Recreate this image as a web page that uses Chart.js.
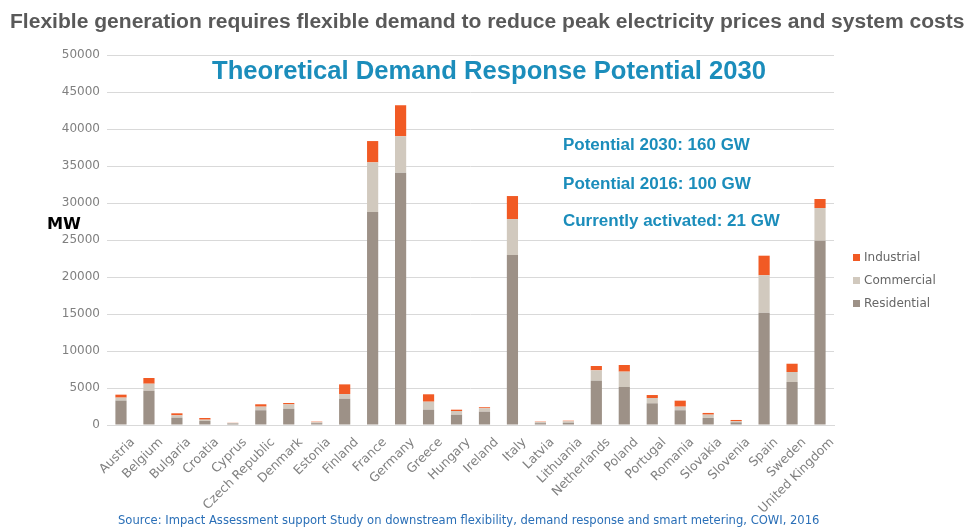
<!DOCTYPE html>
<html>
<head>
<meta charset="utf-8">
<script src="https://cdn.jsdelivr.net/npm/chart.js@4"></script>
<style>
  html, body { margin: 0; padding: 0; background: #fff; }
  #wrap { width: 968px; height: 528px; }
</style>
</head>
<body>
<div id="wrap"><canvas id="myChart" width="968" height="528"></canvas></div>
<script>
// data (MW)
const countries = ['Austria', 'Belgium', 'Bulgaria', 'Croatia', 'Cyprus', 'Czech Republic', 'Denmark',
  'Estonia', 'Finland', 'France', 'Germany', 'Greece', 'Hungary', 'Ireland', 'Italy', 'Latvia',
  'Lithuania', 'Netherlands', 'Poland', 'Portugal', 'Romania', 'Slovakia', 'Slovenia', 'Spain',
  'Sweden', 'United Kingdom']
const residential = [3300, 4630, 990, 540, 200, 1990, 2200, 250, 3550, 28780, 34100, 2070, 1390, 1800,
  22970, 250, 300, 5990, 5140, 2930, 1990, 950, 360, 15180, 5810, 24900]
const commercial = [400, 950, 320, 180, 80, 490, 590, 120, 630, 6710, 4920, 1080, 500, 460,
  4860, 150, 200, 1400, 2070, 720, 490, 450, 140, 5050, 1350, 4420]
const industrial = [400, 770, 270, 230, 20, 320, 180, 80, 1310, 2880, 4190, 1000, 180, 140,
  3110, 50, 80, 580, 900, 400, 810, 230, 180, 2650, 1120, 1220]
const yTicks = [0, 5000, 10000, 15000, 20000, 25000, 30000, 35000, 40000, 45000, 50000]

const mainTitle = 'Flexible generation requires flexible demand to reduce peak electricity prices and system costs'
const subTitle = 'Theoretical Demand Response Potential 2030'
const notes = ['Potential 2030: 160 GW', 'Potential 2016: 100 GW', 'Currently activated: 21 GW']
const source = 'Source: Impact Assessment support Study on downstream flexibility, demand response and smart metering, COWI, 2016'

const blue = '#1b8dbb'

// draw text scaled so it spans a given width
function fitText(ctx, text, x, y, width, weight, family, color, align) {
  ctx.save()
  ctx.font = weight + ' 20px ' + family
  const size = 20 * width / ctx.measureText(text).width
  ctx.font = weight + ' ' + size.toFixed(2) + 'px ' + family
  ctx.fillStyle = color
  ctx.textAlign = align || 'left'
  ctx.textBaseline = 'middle'
  ctx.fillText(text, x, y)
  ctx.restore()
}

const textPlugin = {
  id: 'texts',
  afterDraw(chart) {
    const ctx = chart.ctx
    fitText(ctx, mainTitle, 10, 22, 955, 'bold', '"Liberation Sans Narrow", "Liberation Sans", sans-serif', '#595959')
    fitText(ctx, subTitle, 212, 72, 554, 'bold', '"Liberation Sans", sans-serif', blue)
    fitText(ctx, notes[0], 563, 145, 187, 'bold', '"Liberation Sans", sans-serif', blue)
    fitText(ctx, notes[1], 563, 184, 188, 'bold', '"Liberation Sans", sans-serif', blue)
    fitText(ctx, notes[2], 563, 221, 217, 'bold', '"Liberation Sans", sans-serif', blue)
    fitText(ctx, 'MW', 47, 225, 34, 'bold', '"DejaVu Sans", sans-serif', '#000')
    fitText(ctx, source, 118, 521, 702, 'normal', '"DejaVu Sans", sans-serif', '#2a6fb7')

    // legend, top item = last dataset
    const ds = chart.data.datasets.slice().reverse()
    ctx.save()
    ctx.font = '12px "DejaVu Sans", sans-serif'
    ctx.textBaseline = 'middle'
    ds.forEach((d, i) => {
      const y = 258 + i * 23
      ctx.fillStyle = d.backgroundColor
      ctx.fillRect(853, y - 4, 7, 7)
      ctx.fillStyle = '#666'
      ctx.fillText(d.label, 864, y)
    })
    ctx.restore()
  }
}

const context = document.getElementById('myChart').getContext('2d')
const myChart = new Chart(context, {
  type: 'bar',
  data: {
    labels: countries,
    datasets: [
      { label: 'Residential', data: residential, backgroundColor: '#9d9187' },
      { label: 'Commercial', data: commercial, backgroundColor: '#d1c9be' },
      { label: 'Industrial', data: industrial, backgroundColor: '#f15a24' }
    ]
  },
  options: {
    responsive: false,
    animation: false,
    layout: { padding: { left: 0, right: 134, top: 55, bottom: 0 } },
    datasets: { bar: { barPercentage: 0.4, categoryPercentage: 1 } },
    plugins: {
      legend: { display: false },
      tooltip: { enabled: false }
    },
    scales: {
      x: {
        stacked: true,
        grid: { display: false },
        border: { color: '#d9d9d9' },
        ticks: {
          color: '#808080',
          font: { family: '"DejaVu Sans", sans-serif', size: 12.5 },
          minRotation: 45,
          maxRotation: 45,
          autoSkip: false,
          padding: 2,
          labelOffset: 12
        },
        afterFit(scale) { scale.height = 103 }
      },
      y: {
        stacked: true,
        min: 0,
        max: 50000,
        afterBuildTicks(scale) { scale.ticks = yTicks.map(v => ({ value: v })) },
        grid: { color: '#d9d9d9', drawTicks: false },
        border: { display: false },
        ticks: {
          color: '#808080',
          font: { family: '"DejaVu Sans", sans-serif', size: 12 },
          padding: 7,
          callback: v => String(v)
        },
        afterFit(scale) { scale.width = 107 }
      }
    }
  },
  plugins: [textPlugin]
})
</script>
</body>
</html>
